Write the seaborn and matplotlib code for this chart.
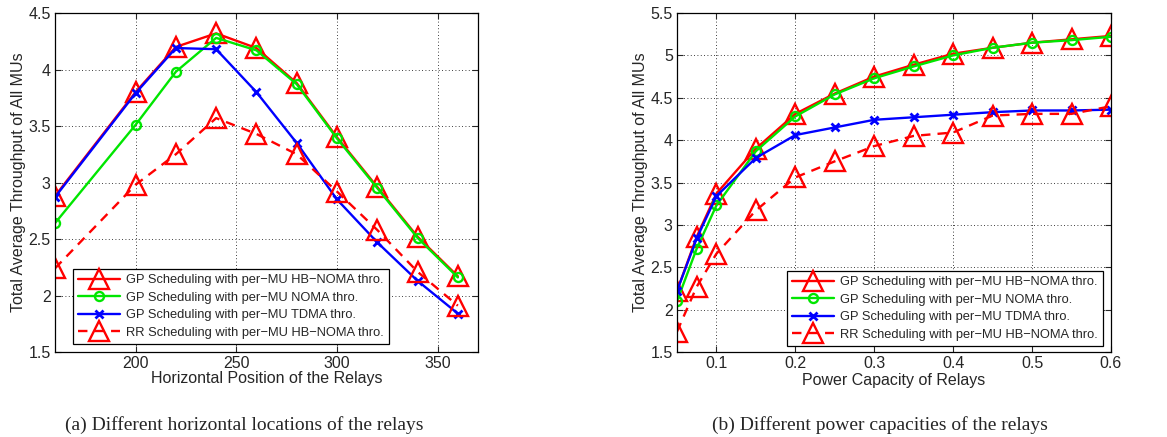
import matplotlib
matplotlib.use("Agg")
import matplotlib.pyplot as plt
import seaborn as sns

# (a) horizontal position of the relays
pos_x = [160, 200, 220, 240, 260, 280, 300, 320, 340, 360]
pos_hb_noma = [2.88, 3.80, 4.20, 4.32, 4.19, 3.88, 3.40, 2.96, 2.52, 2.17]
pos_noma = [2.64, 3.51, 3.98, 4.28, 4.17, 3.87, 3.39, 2.95, 2.51, 2.16]
pos_tdma = [2.87, 3.79, 4.19, 4.18, 3.80, 3.35, 2.85, 2.47, 2.13, 1.84]
pos_rr = [2.24, 2.98, 3.25, 3.57, 3.43, 3.25, 2.92, 2.58, 2.21, 1.91]

# (b) power capacity of relays
pow_x = [0.05, 0.075, 0.1, 0.15, 0.2, 0.25, 0.3, 0.35, 0.4, 0.45, 0.5, 0.55, 0.6]
pow_hb_noma = [2.22, 2.86, 3.37, 3.90, 4.31, 4.55, 4.75, 4.89, 5.02, 5.09, 5.15, 5.19, 5.23]
pow_noma = [2.10, 2.72, 3.23, 3.87, 4.28, 4.54, 4.73, 4.87, 5.00, 5.09, 5.15, 5.18, 5.22]
pow_tdma = [2.22, 2.84, 3.34, 3.79, 4.06, 4.15, 4.24, 4.27, 4.30, 4.33, 4.35, 4.35, 4.36]
pow_rr = [1.74, 2.27, 2.66, 3.17, 3.56, 3.75, 3.93, 4.05, 4.09, 4.29, 4.31, 4.31, 4.40]

labels = ["GP Scheduling with per\u2212MU HB\u2212NOMA thro.",
          "GP Scheduling with per\u2212MU NOMA thro.",
          "GP Scheduling with per\u2212MU TDMA thro.",
          "RR Scheduling with per\u2212MU HB\u2212NOMA thro."]

sns.set_style("ticks")
plt.rcParams['font.family'] = ['Liberation Sans', 'DejaVu Sans']

styles = [
    dict(color="#ff0000", marker="^", markersize=14, markeredgewidth=1.7,
         markerfacecolor="none", linestyle="-"),
    dict(color="#00e600", marker="o", markersize=6.5, markeredgewidth=1.7,
         markerfacecolor="none", linestyle="-"),
    dict(color="#0000ff", marker="x", markersize=6, markeredgewidth=2,
         linestyle="-"),
    dict(color="#ff0000", marker="^", markersize=14, markeredgewidth=1.7,
         markerfacecolor="none", linestyle=(0, (4, 3))),
]

fig = plt.figure(figsize=(11.67, 4.37), dpi=100)
ax1 = fig.add_axes([0.0471, 0.1945, 0.3625, 0.7757])
ax2 = fig.add_axes([0.5801, 0.1945, 0.3719, 0.7757])


def draw(ax, x, series):
    for ys, lab, st in zip(series, labels, styles):
        sns.lineplot(x=x, y=ys, ax=ax, label=lab, linewidth=1.7,
                     markeredgecolor=st["color"], **st)
    ax.grid(True, linestyle=(0, (1, 3)), color="black", linewidth=0.6)
    ax.tick_params(direction="in", top=True, right=True, labelsize=11.5,
                   length=4, width=0.8, pad=3)
    for s in ax.spines.values():
        s.set_linewidth(0.9)
        s.set_color("black")
        s.set_visible(True)
    ax.set_ylabel("Total Average Throughput of All MUs", fontsize=11.5, labelpad=2)


def legend(ax, **kw):
    leg = ax.legend(borderaxespad=0, fontsize=9.3, fancybox=False, edgecolor="black",
                    framealpha=1, handlelength=3.2, borderpad=0.4, labelspacing=0.42,
                    handletextpad=0.5, **kw)
    leg.get_frame().set_linewidth(0.9)


draw(ax1, pos_x, [pos_hb_noma, pos_noma, pos_tdma, pos_rr])
ax1.set_xlim(160, 370)
ax1.set_ylim(1.5, 4.5)
ax1.set_xticks([200, 250, 300, 350])
ax1.set_yticks([1.5, 2, 2.5, 3, 3.5, 4, 4.5])
ax1.set_yticklabels(["1.5", "2", "2.5", "3", "3.5", "4", "4.5"])
ax1.set_xlabel("Horizontal Position of the Relays", fontsize=11.5, labelpad=0)
legend(ax1, loc="lower left", bbox_to_anchor=(0.043, 0.024))

draw(ax2, pow_x, [pow_hb_noma, pow_noma, pow_tdma, pow_rr])
ax2.set_xlim(0.05, 0.6)
ax2.set_ylim(1.5, 5.5)
ax2.set_xticks([0.1, 0.2, 0.3, 0.4, 0.5, 0.6])
ax2.set_yticks([1.5, 2, 2.5, 3, 3.5, 4, 4.5, 5, 5.5])
ax2.set_yticklabels(["1.5", "2", "2.5", "3", "3.5", "4", "4.5", "5", "5.5"])
ax2.set_xlabel("Power Capacity of Relays", fontsize=11.5, labelpad=1)
legend(ax2, loc="lower right", bbox_to_anchor=(0.982, 0.018))

fig.text(0.209, 0.028, "(a) Different horizontal locations of the relays",
         ha="center", va="center", fontsize=14, family="Liberation Serif")
fig.text(0.754, 0.028, "(b) Different power capacities of the relays",
         ha="center", va="center", fontsize=14, family="Liberation Serif")

fig.savefig("out.png", dpi=100)
